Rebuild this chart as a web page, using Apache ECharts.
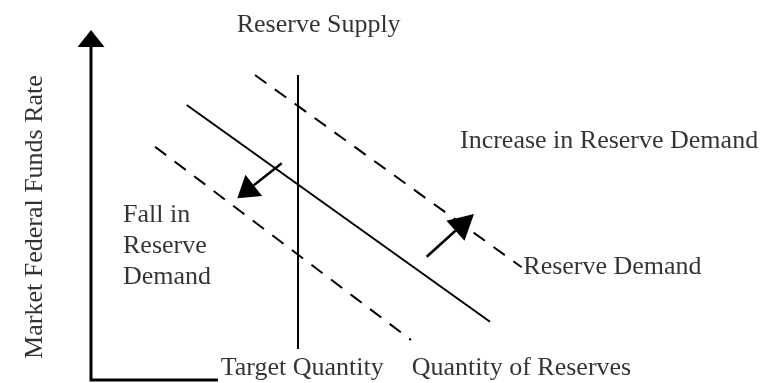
<!DOCTYPE html>
<html lang="en">
<head>
<meta charset="UTF-8">
<script src="https://cdn.jsdelivr.net/npm/echarts@6/dist/echarts.min.js"></script>
<title>Reserve market</title>
<style>
  body { margin: 0; padding: 0; background: #fff; }
  #chart { width: 765px; height: 383px; }
</style>
</head>
<body>
<div id="chart"></div>
<script>
  // frame: origin at the corner of the drawn axes, y goes up
  const axisX = [0, 0, 127];
  const axisY = [333, 0, 0];
  const axisArrow = [0, 333, 0, 350];

  const supplyX = [207, 207];
  const supplyY = [31, 305];

  const demandX = [95.7, 399];
  const demandY = [275, 58.3];
  const highDemandX = [164, 430.7];
  const highDemandY = [305, 112.7];
  const lowDemandX = [64, 320];
  const lowDemandY = [233.3, 40];

  // shift arrows: [fromX, fromY, toX, toY]
  const fallArrow = [190.7, 216.7, 146.3, 181.7];
  const riseArrow = [335.7, 123.3, 383, 166];

  const labelText = ['Reserve Supply', 'Increase in Reserve Demand', 'Fall in', 'Reserve', 'Demand',
    'Reserve Demand', 'Target Quantity', 'Quantity of Reserves'];
  const labelX = [145.7, 369, 32, 32, 32, 432.3, 129.7, 320.7];
  const labelY = [355, 239, 165, 134, 103, 113, 12, 12];
  const yTitle = 'Market Federal Funds Rate';
  const yTitlePos = [-55.5, 163];

  const font = 'Liberation Serif';

  function pairs(xs, ys) {
    return xs.map((x, i) => [x, ys[i]]);
  }

  function lineSeries(xs, ys, width, type) {
    return {
      type: 'line',
      data: pairs(xs, ys),
      showSymbol: false,
      silent: true,
      lineStyle: { color: '#000', width: width, type: type || 'solid', join: 'miter' }
    };
  }

  function arrowSeries(arrow, shaftWidth, headLen, headWidth) {
    return {
      type: 'custom',
      silent: true,
      data: [arrow],
      encode: { x: [0, 2], y: [1, 3] },
      renderItem: function (params, api) {
        const a = api.coord([api.value(0), api.value(1)]);
        const b = api.coord([api.value(2), api.value(3)]);
        const dx = b[0] - a[0], dy = b[1] - a[1];
        const len = Math.sqrt(dx * dx + dy * dy);
        const ux = dx / len, uy = dy / len;
        const bx = b[0] - ux * headLen, by = b[1] - uy * headLen;
        const px = -uy * headWidth / 2, py = ux * headWidth / 2;
        return {
          type: 'group',
          children: [
            {
              type: 'line',
              shape: { x1: a[0], y1: a[1], x2: bx, y2: by },
              style: { stroke: '#000', lineWidth: shaftWidth }
            },
            {
              type: 'polygon',
              shape: { points: [[b[0], b[1]], [bx + px, by + py], [bx - px, by - py]] },
              style: { fill: '#000' }
            }
          ]
        };
      }
    };
  }

  const labelData = labelText.map((t, i) => ({ name: t, value: [labelX[i], labelY[i]] }));
  labelData.push({
    name: yTitle,
    value: yTitlePos,
    label: { position: 'inside', rotate: 90, align: 'center', verticalAlign: 'middle' }
  });

  const chart = echarts.init(document.getElementById('chart'));
  chart.setOption({
    animation: false,
    grid: { left: 0, right: 0, top: 0, bottom: 0 },
    xAxis: { type: 'value', min: -91, max: 674, show: false },
    yAxis: { type: 'value', min: -3, max: 380, show: false },
    series: [
      lineSeries(axisX, axisY, 3),
      lineSeries(supplyX, supplyY, 2),
      lineSeries(demandX, demandY, 2),
      lineSeries(highDemandX, highDemandY, 2, [14, 10.5]),
      lineSeries(lowDemandX, lowDemandY, 2, [14, 10.5]),
      arrowSeries(axisArrow, 3, 17, 27),
      arrowSeries(fallArrow, 2.5, 21, 27),
      arrowSeries(riseArrow, 2.5, 25, 27),
      {
        type: 'scatter',
        silent: true,
        symbolSize: 0,
        clip: false,
        data: labelData,
        label: {
          show: true,
          position: 'right',
          distance: 0,
          formatter: '{b}',
          fontFamily: font,
          fontSize: 26,
          color: '#000'
        }
      }
    ]
  });
</script>
</body>
</html>
